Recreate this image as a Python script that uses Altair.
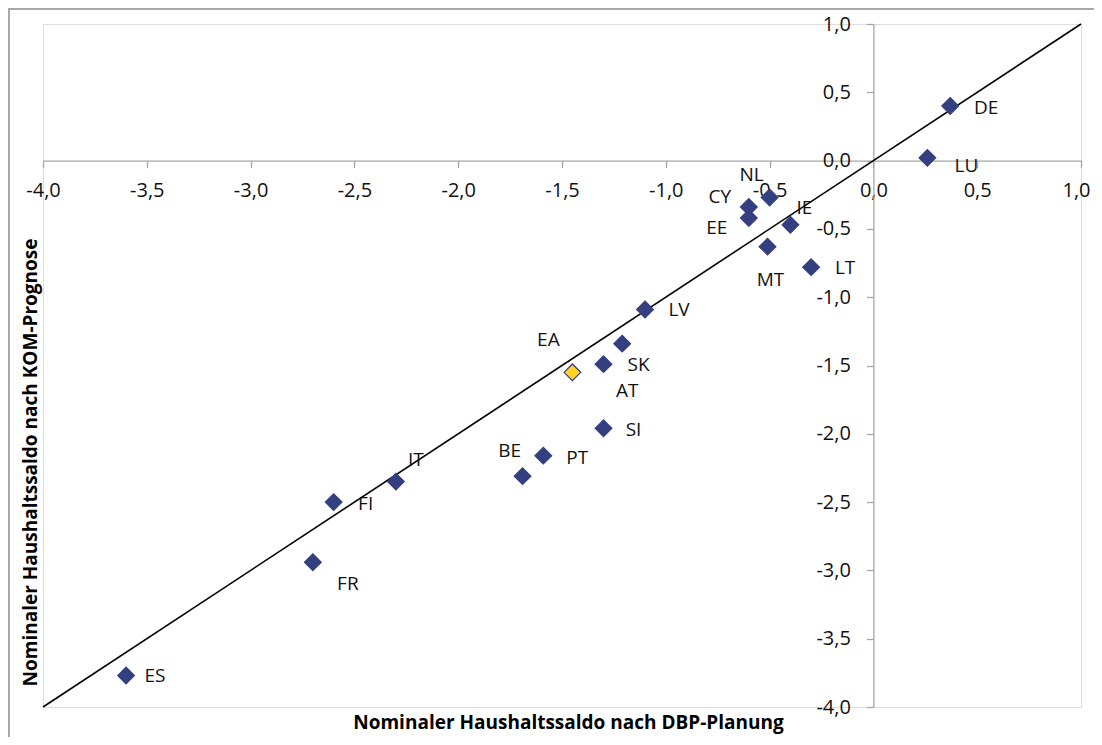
import altair as alt
import pandas as pd

# ---- data ----
countries = ["DE", "LU", "NL", "CY", "EE", "IE", "MT", "LT", "LV", "AT",
             "SK", "EA", "SI", "PT", "BE", "IT", "FI", "FR", "ES"]
dbp = [0.37, 0.26, -0.50, -0.60, -0.60, -0.40, -0.51, -0.30, -1.10, -1.21,
       -1.30, -1.45, -1.30, -1.59, -1.69, -2.30, -2.60, -2.70, -3.60]
kom = [0.40, 0.02, -0.27, -0.34, -0.42, -0.47, -0.63, -0.78, -1.09, -1.34,
       -1.49, -1.55, -1.96, -2.16, -2.31, -2.35, -2.50, -2.94, -3.77]
highlight = ["EA"]
tick_values = [-4.0, -3.5, -3.0, -2.5, -2.0, -1.5, -1.0, -0.5, 0.0, 0.5, 1.0]
x_title = "Nominaler Haushaltssaldo nach DBP-Planung"
y_title = "Nominaler Haushaltssaldo nach KOM-Prognose"

# label placement (pixel offsets from each marker, style only)
label_offsets = {
    "DE": (36, 2), "LU": (39, 8), "NL": (-18, -22), "CY": (-29, -10),
    "EE": (-32, 10), "IE": (14, -17), "MT": (3, 33), "LT": (34, 1),
    "LV": (34, 1), "AT": (5, 47), "SK": (35, 1), "EA": (-24, -32),
    "SI": (30, 2), "PT": (34, 2), "BE": (-13, -25), "IT": (20, -22),
    "FI": (32, 2), "FR": (35, 22), "ES": (29, 0),
}

df = pd.DataFrame({"country": countries, "dbp": dbp, "kom": kom})
df["group"] = ["EA" if c in highlight else "MS" for c in countries]

lo, hi = tick_values[0], tick_values[-1]
diag = pd.DataFrame({"dbp": [lo, hi], "kom": [lo, hi]})

W, H = 1038, 683
FONT = "Open Sans"
NAVY = "#343F80"
x_off = -H * (0 - lo) / (hi - lo)      # move x axis up to y = 0
y_off = -W * (0 - lo) / (hi - lo)      # move y axis right to x = 0
y0_px = H * (hi - 0) / (hi - lo)       # pixel row of y = 0
x0_px = W * (0 - lo) / (hi - lo)       # pixel column of x = 0

label_expr = "(datum.value < 0 ? '-' : '') + replace(format(abs(datum.value), '.1f'), '.', ',')"

xs = alt.Scale(domain=[lo, hi], nice=False, zero=False)
ys = alt.Scale(domain=[lo, hi], nice=False, zero=False)

x_axis = alt.Axis(
    values=tick_values, offset=x_off, grid=False, tickSize=7,
    domainColor="#A6A6A6", tickColor="#A6A6A6", domainWidth=1.3, tickWidth=1.3,
    labelExpr=label_expr, labelFont=FONT, labelFontSize=20, labelColor="#111111",
    labelFlush=False, labelBaseline="alphabetic", labelPadding=29,
    labelOffset={"condition": {"test": "datum.value >= %s" % hi, "value": -5}, "value": 0},
    title=x_title, titleFont=FONT, titleFontSize=19, titleFontWeight="bold",
    titleColor="#000000", titleX=525, titleY=698 - y0_px,
    titleBaseline="middle", titleAlign="center",
)
y_axis = alt.Axis(
    values=tick_values, offset=y_off, grid=False, tickSize=7,
    domainColor="#A6A6A6", tickColor="#A6A6A6", domainWidth=1.3, tickWidth=1.3,
    labelExpr=label_expr, labelFont=FONT, labelFontSize=20, labelColor="#111111",
    labelFlush=False, labelBaseline="middle", labelPadding=16,
    title=y_title, titleFont=FONT, titleFontSize=19, titleFontWeight="bold",
    titleColor="#000000", titleX=-13 - x0_px, titleY=438,
    titleBaseline="middle", titleAlign="center", titleAngle=270,
)

border = alt.Chart(pd.DataFrame({"a": [0]})).mark_rect(
    fillOpacity=0, stroke="#A8A8A8", strokeWidth=2
).encode(x=alt.value(-34), x2=alt.value(W + 300), y=alt.value(-15), y2=alt.value(H + 300))

line = alt.Chart(diag).mark_line(color="#000000", strokeWidth=1.6).encode(
    x=alt.X("dbp:Q", scale=xs, axis=x_axis),
    y=alt.Y("kom:Q", scale=ys, axis=y_axis),
)

points = alt.Chart(df).mark_point(
    shape="diamond", filled=True, size=280, stroke=NAVY, strokeWidth=1.2, opacity=1
).encode(
    x=alt.X("dbp:Q", scale=xs, axis=x_axis),
    y=alt.Y("kom:Q", scale=ys, axis=y_axis),
    fill=alt.Fill("group:N", scale=alt.Scale(domain=["MS", "EA"], range=[NAVY, "#FFD320"]), legend=None),
)

labels = []
for c in countries:
    dx, dy = label_offsets[c]
    labels.append(
        alt.Chart(df).transform_filter(alt.datum.country == c).mark_text(
            dx=dx, dy=dy, align="center", baseline="middle",
            font=FONT, fontSize=19, color="#111111"
        ).encode(x=alt.X("dbp:Q", scale=xs), y=alt.Y("kom:Q", scale=ys), text="country:N")
    )

chart = alt.layer(border, line, points, *labels).properties(
    width=W, height=H,
    autosize=alt.AutoSizeParams(type="none"),
    padding={"left": 35, "top": 16, "right": 13, "bottom": 30},
).configure_view(stroke="transparent").configure(background="white")

chart.save("out.html", embed_options={"renderer": "svg", "actions": False})
